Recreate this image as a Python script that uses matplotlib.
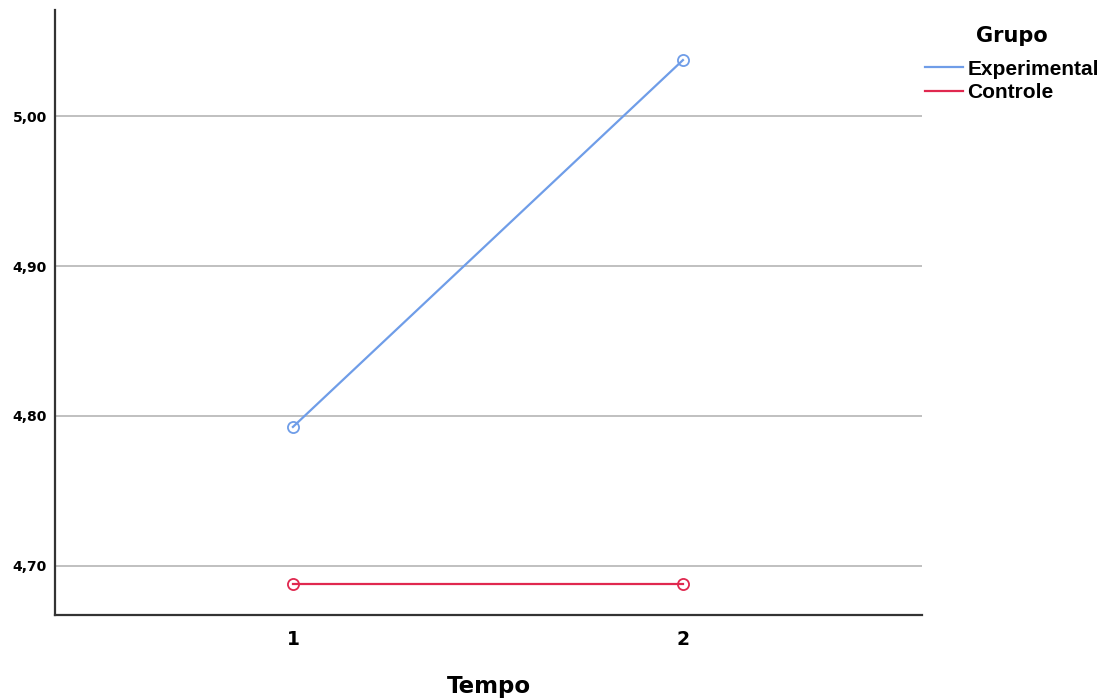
import numpy as np
import matplotlib.pyplot as plt
from matplotlib.lines import Line2D

tempo = [1, 2]
experimental = [4.7927, 5.0373]
controle = [4.6880, 4.6880]
yticks = [4.70, 4.80, 4.90, 5.00]
grupos = ['Experimental', 'Controle']
cores = ['#6f9de8', '#e0284f']

plt.rcParams['font.family'] = ['DejaVu Sans']

fig = plt.figure(figsize=(11.08, 7.00), dpi=100)
ax = fig.add_axes([55 / 1108, 85 / 700, 867 / 1108, 605 / 700])

for vals, cor, nome in zip([experimental, controle], cores, grupos):
    ax.plot(tempo, vals, color=cor, lw=1.6, marker='o', ms=8,
            mfc='none', mew=1.3, label=nome, zorder=3)

ax.set_xlim(0.39, 2.613)
ax.set_ylim(4.6673, 5.0707)
ax.set_xticks(tempo)
ax.set_xticklabels(['1', '2'], fontsize=13.5, fontweight='bold')
ax.set_yticks(yticks)
ax.set_yticklabels(['{:.2f}'.format(v).replace('.', ',') for v in yticks],
                   fontsize=10, fontweight='bold')
ax.tick_params(axis='y', length=0, pad=6)
ax.tick_params(axis='x', length=0, pad=11)
ax.grid(True, axis='y', color='#b5b5b5', lw=1.2)
ax.set_axisbelow(True)

for s in ['top', 'right']:
    ax.spines[s].set_visible(False)
for s in ['left', 'bottom']:
    ax.spines[s].set_color('#333333')
    ax.spines[s].set_linewidth(1.6)

fig.text(0.5 * (55 + 922) / 1108, 1 - 686 / 700, 'Tempo', ha='center',
         va='center', fontsize=16.5, fontweight='bold')

handles = [Line2D([], [], color=c, lw=1.6) for c in cores]
leg = fig.legend(handles, grupos, loc='upper left',
                 bbox_to_anchor=(906 / 1108, 1 - 7 / 700),
                 title='Grupo', frameon=False, handlelength=1.85,
                 handletextpad=0.2, labelspacing=0.22,
                 prop={'family': 'Liberation Sans', 'size': 15, 'weight': 'bold'},
                 title_fontproperties={'size': 15, 'weight': 'bold'})
leg._legend_box.sep = 10

fig.savefig('out.png', dpi=100)
